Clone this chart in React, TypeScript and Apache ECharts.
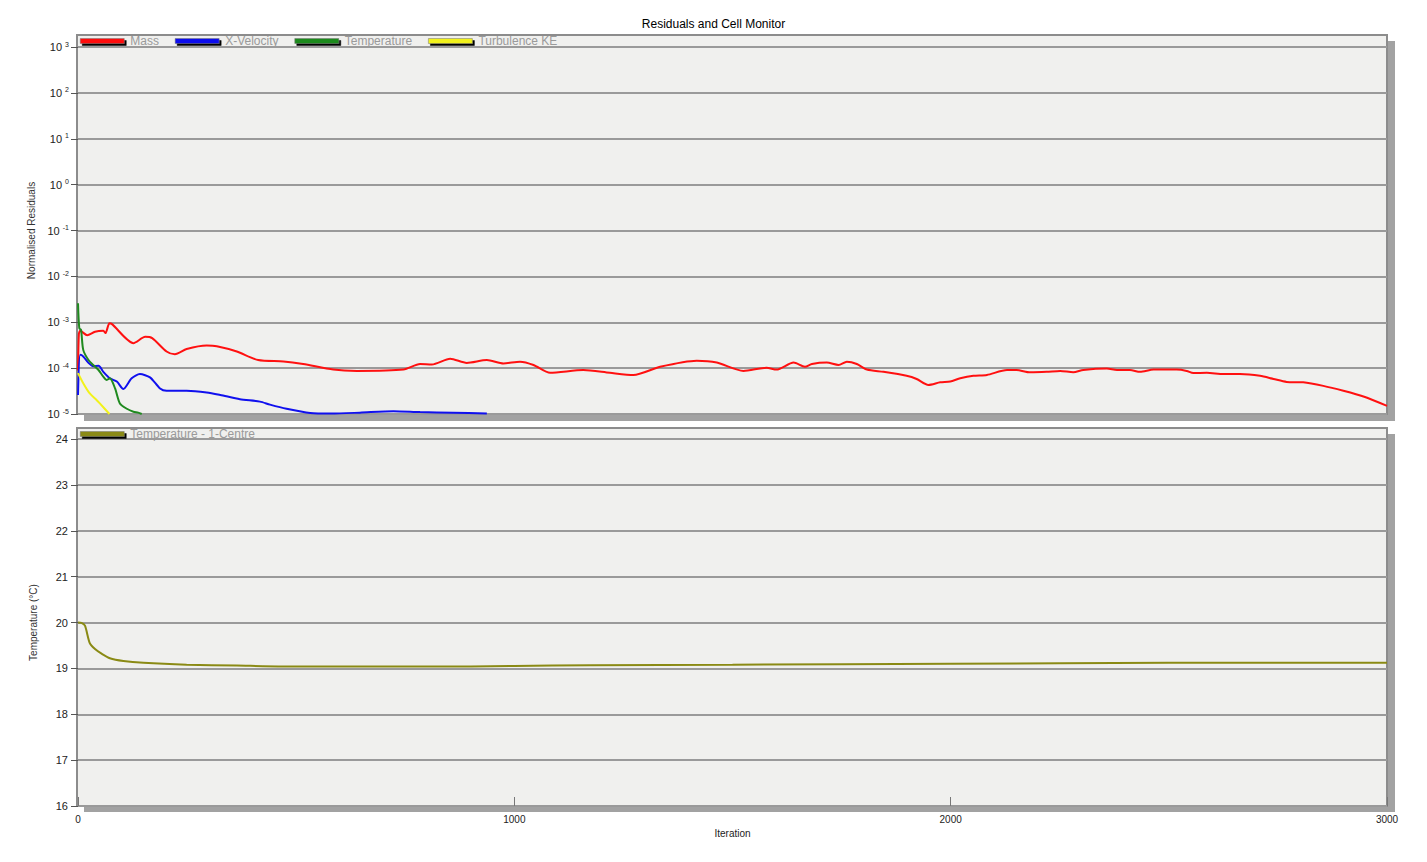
import React, { useEffect, useRef } from "react";
import * as echarts from "echarts";

// ---- Residuals (top panel) ----
const massIter = [0, 2, 5, 21, 39, 58, 63, 72, 78, 127, 154, 170, 203, 222, 249, 295, 318, 364, 413, 471, 516, 585, 639, 746, 784, 811, 853, 891, 937, 975, 1013, 1044, 1082, 1158, 1219, 1273, 1334, 1418, 1464, 1525, 1578, 1601, 1640, 1666, 1682, 1716, 1743, 1762, 1785, 1808, 1846, 1899, 1922, 1949, 1976, 1999, 2022, 2052, 2083, 2129, 2151, 2182, 2220, 2251, 2281, 2304, 2358, 2381, 2411, 2434, 2465, 2518, 2541, 2556, 2587, 2625, 2663, 2709, 2740, 2770, 2808, 2854, 2900, 2946, 3000];
const massVal = [8.9e-5, 5.6e-4, 6.5e-4, 5.2e-4, 6.2e-4, 6.5e-4, 5.8e-4, 9.5e-4, 9.1e-4, 3.5e-4, 4.8e-4, 4.5e-4, 2.3e-4, 2.0e-4, 2.6e-4, 3.1e-4, 3.0e-4, 2.3e-4, 1.5e-4, 1.4e-4, 1.23e-4, 9.3e-5, 8.7e-5, 9.3e-5, 1.23e-4, 1.2e-4, 1.6e-4, 1.3e-4, 1.5e-4, 1.26e-4, 1.38e-4, 1.17e-4, 7.9e-5, 9.1e-5, 7.9e-5, 7.1e-5, 1.07e-4, 1.45e-4, 1.32e-4, 8.7e-5, 1.02e-4, 9.3e-5, 1.32e-4, 1.07e-4, 1.23e-4, 1.32e-4, 1.17e-4, 1.38e-4, 1.23e-4, 9.3e-5, 8.3e-5, 6.8e-5, 5.8e-5, 4.3e-5, 4.9e-5, 5.1e-5, 6.0e-5, 6.8e-5, 7.1e-5, 9.1e-5, 9.1e-5, 8.1e-5, 8.3e-5, 8.7e-5, 8.1e-5, 9.1e-5, 9.8e-5, 9.1e-5, 9.1e-5, 8.3e-5, 9.3e-5, 9.3e-5, 8.7e-5, 7.8e-5, 7.9e-5, 7.4e-5, 7.4e-5, 6.8e-5, 5.8e-5, 5.0e-5, 4.9e-5, 4.1e-5, 3.2e-5, 2.4e-5, 1.5e-5];

const xVelIter = [0, 5, 12, 24, 35, 47, 58, 73, 89, 104, 123, 142, 165, 188, 203, 249, 295, 326, 371, 417, 440, 478, 532, 580, 646, 723, 784, 860, 937];
const xVelVal = [2.6e-5, 1.95e-4, 1.8e-4, 1.3e-4, 1.1e-4, 1.12e-4, 8.3e-5, 6.0e-5, 5.1e-5, 3.5e-5, 6.0e-5, 7.4e-5, 6.3e-5, 3.6e-5, 3.2e-5, 3.2e-5, 2.95e-5, 2.6e-5, 2.1e-5, 1.86e-5, 1.6e-5, 1.3e-5, 1.05e-5, 1.02e-5, 1.07e-5, 1.15e-5, 1.1e-5, 1.07e-5, 1.02e-5];

const tempResIter = [0, 3, 7, 12, 24, 35, 47, 58, 66, 73, 85, 96, 112, 127, 138, 146];
const tempResVal = [2.6e-3, 7.4e-4, 6.8e-4, 2.5e-4, 1.5e-4, 1.17e-4, 9.1e-5, 6.5e-5, 5.5e-5, 6.0e-5, 3.6e-5, 1.7e-5, 1.3e-5, 1.12e-5, 1.07e-5, 1.0e-5];

const tkeIter = [0, 12, 27, 43, 50, 72];
const tkeVal = [7.8e-5, 4.7e-5, 2.8e-5, 2.0e-5, 1.7e-5, 1.0e-5];

// ---- Cell monitor (bottom panel) ----
const cellIter = [0, 8, 16, 27, 39, 54, 73, 104, 150, 249, 364, 516, 800, 1000, 1174, 1500, 2000, 2500, 3000];
const cellVal = [20.0, 19.99, 19.93, 19.55, 19.42, 19.32, 19.22, 19.16, 19.12, 19.08, 19.06, 19.04, 19.04, 19.05, 19.07, 19.08, 19.1, 19.12, 19.12];

const residualNames = ["Mass", "X-Velocity", "Temperature", "Turbulence KE"];
const residualColors = ["#ff1010", "#1010ee", "#1f8a1f", "#f2f21a"];
const cellName = "Temperature - 1-Centre";
const cellColor = "#8a8a14";
const xTicks = [0, 1000, 2000, 3000];

const FONT = "Liberation Sans, Arial, sans-serif";

const pair = (xs: number[], ys: number[]) => xs.map((x, i) => [x, ys[i]]);

export default function App() {
  const ref = useRef<HTMLDivElement>(null);
  useEffect(() => {
    const chart = echarts.init(ref.current!, null, { renderer: "svg" });
    const legendItemStyle = { shadowColor: "#000", shadowOffsetX: 2, shadowOffsetY: 2, shadowBlur: 0, borderColor: "#777", borderWidth: 0.5 };
    const lineSeries = (name: string, data: number[][], color: string, xi: number, yi: number) => ({
      type: "line",
      name,
      data,
      xAxisIndex: xi,
      yAxisIndex: yi,
      showSymbol: false,
      smooth: 0.25,
      clip: true,
      lineStyle: { color, width: 2 },
      itemStyle: { color },
      z: 5,
    });
    chart.setOption({
      animation: false,
      backgroundColor: "#ffffff",
      textStyle: { fontFamily: FONT },
      title: {
        text: "Residuals and Cell Monitor",
        left: "center",
        top: 13,
        textStyle: { fontSize: 12, fontWeight: "normal", color: "#000", fontFamily: FONT },
      },
      graphic: [
        { type: "rect", z: -20, shape: { x: 84, y: 41, width: 1311, height: 380 }, style: { fill: "#a2a2a2" } },
        { type: "rect", z: -10, shape: { x: 77, y: 35, width: 1310, height: 379 }, style: { fill: "#f0f0ee", stroke: "#8c8c8c", lineWidth: 2 } },
        { type: "rect", z: -20, shape: { x: 84, y: 434, width: 1311, height: 378 }, style: { fill: "#a2a2a2" } },
        { type: "rect", z: -10, shape: { x: 77, y: 428, width: 1310, height: 378 }, style: { fill: "#f0f0ee", stroke: "#8c8c8c", lineWidth: 2 } },
      ],
      legend: [
        {
          data: residualNames,
          left: 80,
          top: 35,
          padding: 0,
          itemWidth: 44,
          itemHeight: 5,
          itemGap: 16,
          icon: "rect",
          selectedMode: false,
          itemStyle: legendItemStyle,
          textStyle: { color: "#9a9a9a", fontSize: 12, fontFamily: FONT, padding: [0, 0, 0, 1] },
        },
        {
          data: [cellName],
          left: 80,
          top: 428,
          padding: 0,
          itemWidth: 44,
          itemHeight: 5,
          icon: "rect",
          selectedMode: false,
          itemStyle: legendItemStyle,
          textStyle: { color: "#9a9a9a", fontSize: 12, fontFamily: FONT, padding: [0, 0, 0, 1] },
        },
      ],
      grid: [
        { left: 78, top: 47, width: 1309, height: 367 },
        { left: 78, top: 439, width: 1309, height: 367 },
      ],
      xAxis: [
        { type: "value", gridIndex: 0, min: 0, max: 3000, show: false },
        {
          type: "value",
          gridIndex: 1,
          min: 0,
          max: 3000,
          interval: 1000,
          name: "Iteration",
          nameLocation: "middle",
          nameGap: 22,
          nameTextStyle: { fontSize: 10, color: "#222", fontFamily: FONT },
          axisLine: { show: false },
          axisTick: { show: true, inside: true, length: 9, lineStyle: { color: "#777", width: 1 } },
          axisLabel: {
            margin: 8,
            fontSize: 10,
            color: "#222",
            fontFamily: FONT,
            formatter: (v: number) => (xTicks.includes(v) ? String(v) : ""),
          },
          splitLine: { show: false },
        },
      ],
      yAxis: [
        {
          type: "log",
          gridIndex: 0,
          logBase: 10,
          min: 1e-5,
          max: 1e3,
          interval: 1,
          name: "Normalised Residuals",
          nameLocation: "middle",
          nameGap: 42,
          nameTextStyle: { fontSize: 10, color: "#333", fontFamily: FONT },
          axisLine: { show: false },
          axisTick: { show: true, length: 7, lineStyle: { color: "#555" } },
          axisLabel: {
            margin: 9,
            formatter: (v: number) => `{b|10 }{s|${Math.round(Math.log10(v))}}`,
            rich: {
              b: { fontSize: 11, color: "#222", fontFamily: FONT },
              s: { fontSize: 7, color: "#222", fontFamily: FONT, padding: [0, 0, 6, 0] },
            },
          },
          splitLine: { show: true, lineStyle: { color: "#9a9a9a", width: 2 } },
        },
        {
          type: "value",
          gridIndex: 1,
          min: 16,
          max: 24,
          interval: 1,
          name: "Temperature (°C)",
          nameLocation: "middle",
          nameGap: 40,
          nameTextStyle: { fontSize: 10, color: "#333", fontFamily: FONT },
          axisLine: { show: false },
          axisTick: { show: true, length: 7, lineStyle: { color: "#555" } },
          axisLabel: { margin: 10, fontSize: 11, color: "#222", fontFamily: FONT },
          splitLine: { show: true, lineStyle: { color: "#9a9a9a", width: 2 } },
        },
      ],
      series: [
        lineSeries(residualNames[0], pair(massIter, massVal), residualColors[0], 0, 0),
        lineSeries(residualNames[1], pair(xVelIter, xVelVal), residualColors[1], 0, 0),
        lineSeries(residualNames[2], pair(tempResIter, tempResVal), residualColors[2], 0, 0),
        lineSeries(residualNames[3], pair(tkeIter, tkeVal), residualColors[3], 0, 0),
        lineSeries(cellName, pair(cellIter, cellVal), cellColor, 1, 1),
      ],
    });
    return () => chart.dispose();
  }, []);
  return (
    <div
      ref={ref}
      style={{ position: "fixed", left: 0, top: 0, width: 1427, height: 862, background: "#fff" }}
    />
  );
}
